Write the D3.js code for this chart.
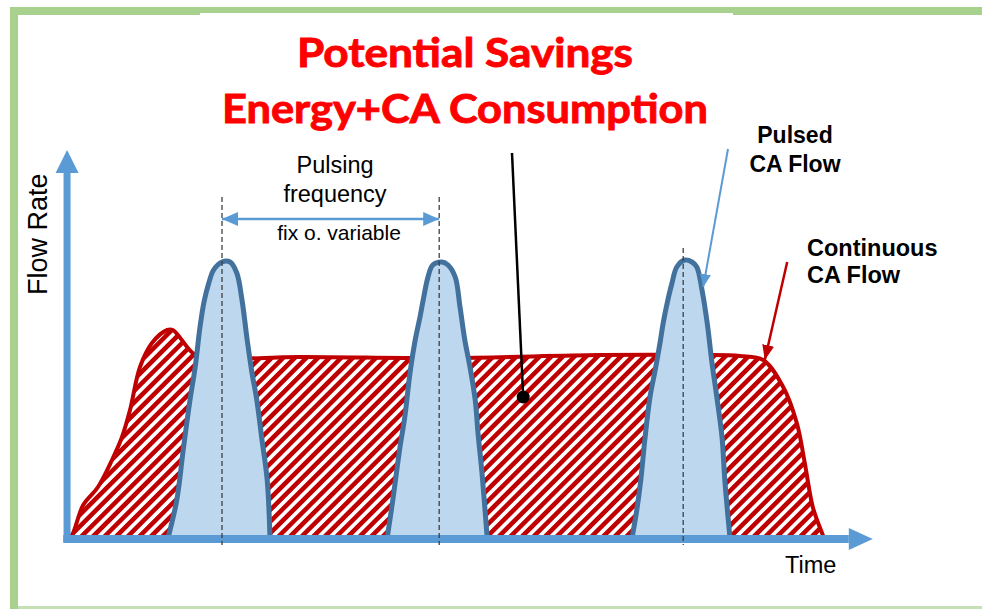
<!DOCTYPE html>
<html>
<head>
<meta charset="utf-8">
<script src="https://cdn.jsdelivr.net/npm/d3@7"></script>
<style>
  html, body { margin: 0; padding: 0; background: #fff; }
  svg { display: block; font-family: "Liberation Sans", Arial, sans-serif; }
</style>
</head>
<body>
<div id="chart"></div>
<script>
// continuous CA flow, [time, flow]
var continuousFlow = [
  [0, 0], [0.5, 0.75], [1.9, 8.25], [3.75, 12.75], [5.5, 19.5], [6.75, 25.25],
  [7.75, 32], [9, 42.75], [10.5, 48.75], [12.4, 52], [13.1, 52], [15.6, 46.25],
  [17.1, 45], [29, 45.25], [47.75, 45], [66.5, 45.75], [79, 45.75], [84, 45.5],
  [86.9, 44.5], [89.4, 37.75], [91.1, 28.75], [92.1, 18.75], [93.1, 7.75],
  [94.25, 1.25], [94.5, 0]
];

// pulsed CA flow, one array per pulse
var pulse1 = [
  [12.5, 0], [13.6, 9.5], [14.4, 22], [15.25, 34.5], [15.9, 42.75], [16.5, 52.75],
  [17, 59], [17.6, 63.75], [18.2, 67], [19.25, 69], [20.25, 69], [21.1, 66.25],
  [21.75, 59.5], [22.4, 49.5], [23, 41.25], [23.6, 34.5], [24.25, 24.5],
  [24.9, 14.5], [25.25, 0]
];
var pulse2 = [
  [39.9, 0], [40.6, 9.5], [41.5, 22.75], [42.1, 30.25], [42.75, 41.25], [43.4, 49.5],
  [44, 55.25], [44.4, 59.5], [45, 65.25], [45.6, 68.25], [46.75, 69], [47.5, 68.25],
  [48.4, 65.25], [49, 57.75], [49.6, 49.5], [50.25, 42.75], [50.9, 34.5],
  [51.25, 26.25], [51.75, 16.25], [52.4, 0]
];
var pulse3 = [
  [70.5, 0], [71.1, 7], [71.6, 14.5], [72.1, 24.5], [72.75, 35.25], [73.4, 42],
  [74, 48.75], [74.4, 53.75], [74.9, 58.75], [75.5, 63.75], [76.1, 67.75],
  [77.1, 69.5], [78, 69], [78.6, 67.75], [79.25, 62], [79.9, 53.75], [80.5, 43.75],
  [81.1, 35.25], [81.75, 25.25], [82.1, 14.5], [82.75, 0]
];
var pulses = [pulse1, pulse2, pulse3];

// pulse centre markers: [time, top of dashed line]
var pulseCenters = [[19.25, 85.25], [46.4, 85.25], [76.9, 72.5]];
var dashBottom = -1.75;

// pulsing frequency arrow (time from, time to, flow)
var freqArrow = [19.25, 46.4, 79.75];

// annotation pointers [[t0, f0], [t1, f1]]
var savingsPointer = [[55.5, 96.25], [56.9, 35.25]];
var pulsedPointer = [[82.5, 97.25], [79.4, 62.75]];
var continuousPointer = [[89.9, 69], [87.1, 44.5]];

// axis extents
var timeAxisExtent = [-0.6, 97.6, 100.6];
var flowAxisExtent = [-0.75, 91.25, 97];

var titleLines = ["Potential Savings", "Energy+CA Consumption"];

var width = 982, height = 609;

var svg = d3.select("#chart").append("svg")
  .attr("width", width)
  .attr("height", height);

var x = d3.scaleLinear().domain([0, 100]).range([68, 868]);
var y = d3.scaleLinear().domain([0, 100]).range([538, 138]);

var defs = svg.append("defs");

// diagonal hatching
var pat = defs.append("pattern")
  .attr("id", "hatch")
  .attr("patternUnits", "userSpaceOnUse")
  .attr("width", 8.2)
  .attr("height", 8.2)
  .attr("patternTransform", "rotate(45)");
pat.append("rect").attr("width", 8.2).attr("height", 8.2).attr("fill", "#fff");
pat.append("rect").attr("width", 4.3).attr("height", 8.2).attr("fill", "#c00000")
  .attr("shape-rendering", "crispEdges");

function marker(id, color, len, half) {
  defs.append("marker")
    .attr("id", id)
    .attr("markerUnits", "userSpaceOnUse")
    .attr("viewBox", `0 0 ${len} ${half * 2}`)
    .attr("markerWidth", len)
    .attr("markerHeight", half * 2)
    .attr("refX", len)
    .attr("refY", half)
    .attr("orient", "auto-start-reverse")
    .append("path")
    .attr("d", `M0,0L${len},${half}L0,${half * 2}Z`)
    .attr("fill", color);
}
marker("arrBlue", "#5b9bd5", 16, 7);
marker("arrBlueSmall", "#5b9bd5", 13, 5.5);
marker("arrRed", "#c00000", 15, 6);

// frame
svg.append("rect").attr("x", 10).attr("y", 7).attr("width", 8).attr("height", 602).attr("fill", "#a9d18e");
svg.append("rect").attr("x", 10).attr("y", 7).attr("width", 972).attr("height", 8).attr("fill", "#a9d18e");
svg.append("rect").attr("x", 18).attr("y", 606).attr("width", 964).attr("height", 3).attr("fill", "#c5e0b4");
svg.append("rect").attr("x", 200).attr("y", 13).attr("width", 533).attr("height", 3).attr("fill", "#fff");

// continuous flow
var area = d3.area()
  .x(d => x(d[0]))
  .y0(y(0))
  .y1(d => y(d[1]))
  .curve(d3.curveCatmullRom.alpha(0.5));
var line = d3.line()
  .x(d => x(d[0]))
  .y(d => y(d[1]))
  .curve(d3.curveCatmullRom.alpha(0.5));

svg.append("path")
  .datum(continuousFlow)
  .attr("d", area)
  .attr("fill", "url(#hatch)");
svg.append("path")
  .datum(continuousFlow)
  .attr("d", line)
  .attr("fill", "none")
  .attr("stroke", "#c00000")
  .attr("stroke-width", 4)
  .attr("stroke-linejoin", "round")
  .attr("stroke-linecap", "round");

// pulses
svg.selectAll(".pulse")
  .data(pulses)
  .enter().append("path")
  .attr("class", "pulse")
  .attr("d", area)
  .attr("fill", "#bdd7ee");
svg.selectAll(".pulse-line")
  .data(pulses)
  .enter().append("path")
  .attr("class", "pulse-line")
  .attr("d", line)
  .attr("fill", "none")
  .attr("stroke", "#41719c")
  .attr("stroke-width", 5)
  .attr("stroke-linejoin", "round");

// axes
svg.append("line")
  .attr("x1", x(timeAxisExtent[0])).attr("x2", x(timeAxisExtent[1]))
  .attr("y1", y(-0.25)).attr("y2", y(-0.25))
  .attr("stroke", "#5b9bd5").attr("stroke-width", 8);
svg.append("path")
  .attr("d", `M${x(timeAxisExtent[1])},${y(-0.25) - 11}L${x(timeAxisExtent[2])},${y(-0.25)}L${x(timeAxisExtent[1])},${y(-0.25) + 11}Z`)
  .attr("fill", "#5b9bd5");
svg.append("line")
  .attr("x1", x(-0.12)).attr("x2", x(-0.12))
  .attr("y1", y(flowAxisExtent[0])).attr("y2", y(flowAxisExtent[1]))
  .attr("stroke", "#5b9bd5").attr("stroke-width", 7);
svg.append("path")
  .attr("d", `M${x(-0.12) - 11.5},${y(flowAxisExtent[1])}L${x(-0.12)},${y(flowAxisExtent[2])}L${x(-0.12) + 11.5},${y(flowAxisExtent[1])}Z`)
  .attr("fill", "#5b9bd5");

// dashed pulse centres
svg.selectAll(".center")
  .data(pulseCenters)
  .enter().append("line")
  .attr("class", "center")
  .attr("x1", d => x(d[0])).attr("x2", d => x(d[0]))
  .attr("y1", d => y(d[1])).attr("y2", y(dashBottom))
  .attr("stroke", "#404040")
  .attr("stroke-width", 1.3)
  .attr("stroke-dasharray", "5,3");

// pulsing frequency arrow
svg.append("line")
  .attr("x1", x(freqArrow[0])).attr("x2", x(freqArrow[1]))
  .attr("y1", y(freqArrow[2])).attr("y2", y(freqArrow[2]))
  .attr("stroke", "#5b9bd5").attr("stroke-width", 2.5)
  .attr("marker-start", "url(#arrBlue)")
  .attr("marker-end", "url(#arrBlue)");

// pointers
svg.append("line")
  .attr("x1", x(savingsPointer[0][0])).attr("y1", y(savingsPointer[0][1]))
  .attr("x2", x(savingsPointer[1][0])).attr("y2", y(savingsPointer[1][1]))
  .attr("stroke", "#000").attr("stroke-width", 2.5);
svg.append("circle")
  .attr("cx", x(savingsPointer[1][0])).attr("cy", y(savingsPointer[1][1]))
  .attr("r", 6.5).attr("fill", "#000");

svg.append("line")
  .attr("x1", x(pulsedPointer[0][0])).attr("y1", y(pulsedPointer[0][1]))
  .attr("x2", x(pulsedPointer[1][0])).attr("y2", y(pulsedPointer[1][1]))
  .attr("stroke", "#5b9bd5").attr("stroke-width", 2)
  .attr("marker-end", "url(#arrBlueSmall)");

svg.append("line")
  .attr("x1", x(continuousPointer[0][0])).attr("y1", y(continuousPointer[0][1]))
  .attr("x2", x(continuousPointer[1][0])).attr("y2", y(continuousPointer[1][1]))
  .attr("stroke", "#c00000").attr("stroke-width", 2.5)
  .attr("marker-end", "url(#arrRed)");

// title
var titleW = [336, 486];
svg.selectAll(".title")
  .data(titleLines)
  .enter().append("text")
  .attr("class", "title")
  .attr("x", 465)
  .attr("y", (d, i) => 67 + i * 56)
  .attr("text-anchor", "middle")
  .attr("textLength", (d, i) => titleW[i])
  .attr("lengthAdjust", "spacingAndGlyphs")
  .style("font-family", "Lato, 'Open Sans', sans-serif")
  .style("font-weight", "bold")
  .style("font-size", "40px")
  .attr("fill", "#ff0000")
  .attr("stroke", "#ff0000")
  .attr("stroke-width", 0.9)
  .text(d => d);

function label(txt, px, py, size, anchor, weight) {
  return svg.append("text")
    .attr("x", px).attr("y", py)
    .attr("text-anchor", anchor)
    .style("font-size", size + "px")
    .style("font-weight", weight || "normal")
    .attr("fill", "#000")
    .text(txt);
}

label("Pulsing", 335, 173, 23.5, "middle");
label("frequency", 335, 202, 23.5, "middle");
label("fix o. variable", 339, 240, 21, "middle");
label("Pulsed", 795, 143, 23, "middle", "bold");
label("CA Flow", 795, 172, 23, "middle", "bold");
label("Continuous", 807, 256, 23.5, "start", "bold");
label("CA Flow", 807, 283, 23.5, "start", "bold");
label("Time", 785, 573, 23.5, "start");

svg.append("text")
  .attr("transform", "translate(47,295) rotate(-90)")
  .style("font-size", "27px")
  .attr("fill", "#000")
  .text("Flow Rate");
</script>
</body>
</html>
